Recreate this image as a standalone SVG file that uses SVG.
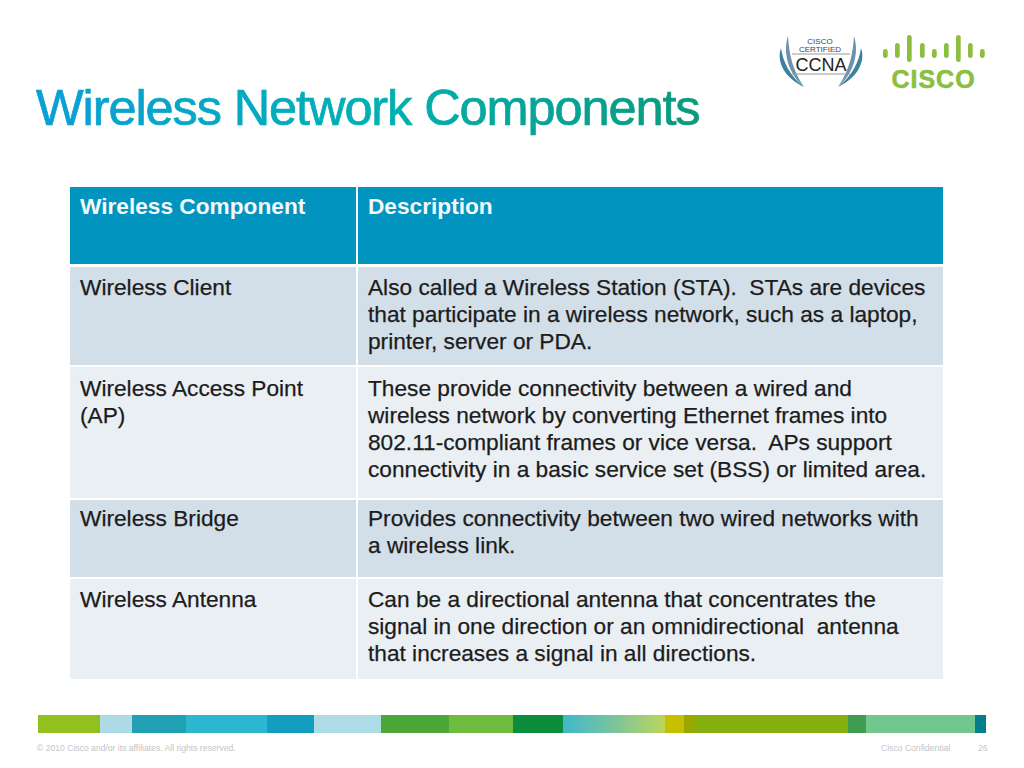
<svg xmlns="http://www.w3.org/2000/svg" width="1024" height="768" viewBox="0 0 1024 768">
<defs>
<linearGradient id="title" gradientUnits="userSpaceOnUse" x1="36" y1="0" x2="700" y2="0"><stop offset="0" stop-color="#0a9fd6"/><stop offset="0.5" stop-color="#00b0b4"/><stop offset="1" stop-color="#0b9a7c"/></linearGradient>
<linearGradient id="fade" x1="0" y1="0" x2="1" y2="0"><stop offset="0" stop-color="#3fb8cc"/><stop offset="0.5" stop-color="#7cc49c"/><stop offset="1" stop-color="#bcd65c"/></linearGradient>
</defs>
<style>
text{font-family:"Liberation Sans",Arial,sans-serif;white-space:pre}
.b{font-size:22.68px;fill:#1c1c1c;stroke:#1c1c1c;stroke-width:.25}
.h{font-size:22.68px;font-weight:bold;fill:#f4f8fa}
.f{font-size:8.6px;fill:#c4c4c4}
.bar{fill:#8cbf3f}
.w1{fill:#3f7f9f}
.w2{fill:#6c93aa}
</style>
<rect width="1024" height="768" fill="#fff"/>
<text x="36" y="125" font-size="50.500" letter-spacing="-1.100" fill="url(#title)" stroke="url(#title)" stroke-width=".7">Wireless Network Components</text>
<g id="ccna">
<path class="w1" d="M781 48C776 62 785 78 804 87C790 76 783 62 781 48ZM861 48C866 62 857 78 838 87C852 76 859 62 861 48Z"/>
<path class="w2" d="M788 36C782 55 790 75 804 87C792 70 789 52 788 36ZM854 36C860 55 852 75 838 87C850 70 853 52 854 36Z"/>
<text x="820" y="44" font-size="8" text-anchor="middle" fill="#444">CISCO</text>
<text x="820" y="51.500" font-size="8" text-anchor="middle" fill="#444">CERTIFIED</text>
<path d="M792 54H850M792 74H850" stroke="#999" stroke-width="1"/>
<text x="821" y="71" font-size="18" text-anchor="middle" fill="#222">CCNA</text>
</g>
<g id="cisco-logo">
<rect class="bar" x="883" y="49" width="4.700" height="9" rx="2.300"/><rect class="bar" x="895" y="43" width="4.700" height="15" rx="2.300"/><rect class="bar" x="907" y="35" width="4.700" height="27" rx="2.300"/><rect class="bar" x="920" y="43" width="4.700" height="15" rx="2.300"/><rect class="bar" x="932" y="49" width="4.700" height="9" rx="2.300"/><rect class="bar" x="944" y="43" width="4.700" height="15" rx="2.300"/><rect class="bar" x="956" y="35" width="4.700" height="27" rx="2.300"/><rect class="bar" x="968" y="43" width="4.700" height="15" rx="2.300"/><rect class="bar" x="980" y="49" width="4.700" height="9" rx="2.300"/>
<text x="933.500" y="88" font-size="25" font-weight="bold" letter-spacing="1" text-anchor="middle" fill="#8cbf3f" stroke="#8cbf3f" stroke-width=".6">CISCO</text>
</g>
<g id="table">
<rect x="70" y="187" width="286" height="77" fill="#0094bf"/><rect x="358" y="187" width="585" height="77" fill="#0094bf"/>
<rect x="70" y="267" width="286" height="98" fill="#d2dee8"/><rect x="358" y="267" width="585" height="98" fill="#d2dee8"/>
<rect x="70" y="367" width="286" height="131" fill="#eaeff4"/><rect x="358" y="367" width="585" height="131" fill="#eaeff4"/>
<rect x="70" y="500" width="286" height="77" fill="#d2dee8"/><rect x="358" y="500" width="585" height="77" fill="#d2dee8"/>
<rect x="70" y="579" width="286" height="100" fill="#eaeff4"/><rect x="358" y="579" width="585" height="100" fill="#eaeff4"/>
<text class="h" x="80" y="214">Wireless Component</text><text class="h" x="368" y="214">Description</text>
<text class="b" x="80" y="295">Wireless Client</text>
<text class="b" x="368" y="295">Also called a Wireless Station (STA).  STAs are devices</text>
<text class="b" x="368" y="322">that participate in a wireless network, such as a laptop,</text>
<text class="b" x="368" y="349">printer, server or PDA.</text>
<text class="b" x="80" y="396">Wireless Access Point</text><text class="b" x="80" y="423">(AP)</text>
<text class="b" x="368" y="396">These provide connectivity between a wired and</text>
<text class="b" x="368" y="423">wireless network by converting Ethernet frames into</text>
<text class="b" x="368" y="450">802.11-compliant frames or vice versa.  APs support</text>
<text class="b" x="368" y="477">connectivity in a basic service set (BSS) or limited area.</text>
<text class="b" x="80" y="526">Wireless Bridge</text>
<text class="b" x="368" y="526">Provides connectivity between two wired networks with</text>
<text class="b" x="368" y="553">a wireless link.</text>
<text class="b" x="80" y="607">Wireless Antenna</text>
<text class="b" x="368" y="607">Can be a directional antenna that concentrates the</text>
<text class="b" x="368" y="634">signal in one direction or an omnidirectional  antenna</text>
<text class="b" x="368" y="661">that increases a signal in all directions.</text>
</g>
<g id="footer-bar">
<rect x="38" y="715" width="62" height="18" fill="#93c01f"/><rect x="100" y="715" width="32" height="18" fill="#acdbe6"/><rect x="132" y="715" width="54" height="18" fill="#21a0b4"/><rect x="186" y="715" width="81" height="18" fill="#2cb6d0"/><rect x="267" y="715" width="47" height="18" fill="#159dc0"/><rect x="314" y="715" width="67" height="18" fill="#addce6"/><rect x="381" y="715" width="68" height="18" fill="#4ca637"/><rect x="449" y="715" width="64" height="18" fill="#6fbb3d"/><rect x="513" y="715" width="50" height="18" fill="#0d8c3c"/><rect x="563" y="715" width="102" height="18" fill="url(#fade)"/><rect x="665" y="715" width="19" height="18" fill="#c6c000"/><rect x="684" y="715" width="11" height="18" fill="#98a800"/><rect x="695" y="715" width="153" height="18" fill="#86b010"/><rect x="848" y="715" width="18" height="18" fill="#3f9c50"/><rect x="866" y="715" width="109" height="18" fill="#72c68e"/><rect x="975" y="715" width="11" height="18" fill="#037f8c"/>
</g>
<text class="f" x="37" y="751">© 2010 Cisco and/or its affiliates. All rights reserved.</text>
<text class="f" x="881" y="751">Cisco Confidential</text>
<text class="f" x="978" y="751">26</text>
</svg>
